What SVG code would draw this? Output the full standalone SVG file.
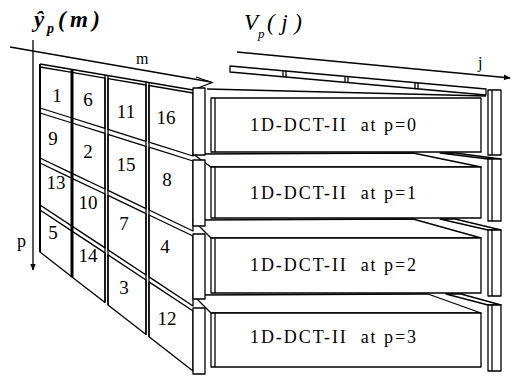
<svg xmlns="http://www.w3.org/2000/svg" width="511" height="376" viewBox="0 0 511 376">
<defs>
<style>
.s{fill:#fff;stroke:#000;stroke-width:1.3;stroke-linejoin:round}
.l{fill:none;stroke:#000;stroke-width:1.3}
.n{font-family:"Liberation Serif",serif;font-size:19px;text-anchor:middle;fill:#000}
.b{font-family:"Liberation Serif",serif;font-size:18px;fill:#000}
.ax{font-family:"Liberation Serif",serif;fill:#000}
</style>
<marker id="ah" viewBox="0 0 10 10" refX="9" refY="5" markerWidth="7" markerHeight="7" orient="auto" markerUnits="userSpaceOnUse"><path d="M0,1 L10,5 L0,9 Z" fill="#000"/></marker>
</defs>
<rect width="511" height="376" fill="#fff"/>

<!-- titles -->
<g id="title-y">
<text class="ax" x="34" y="27" font-size="23" font-weight="bold" font-style="italic">ŷ</text>
<text class="ax" x="47" y="33" font-size="14" font-weight="bold" font-style="italic">p</text>
<text class="ax" x="58" y="27" font-size="23" font-weight="bold" font-style="italic" textLength="42" lengthAdjust="spacing">(m)</text>
</g>
<g id="title-v">
<text class="ax" x="244" y="30" font-size="23" font-style="italic">V</text>
<text class="ax" x="258" y="38" font-size="13" font-style="italic">p</text>
<text class="ax" x="267" y="30" font-size="23" font-style="italic" textLength="35" lengthAdjust="spacing">(j)</text>
</g>

<!-- connectors / axes -->
<g id="connectors">
<line class="l" x1="10" y1="47" x2="211" y2="82"/>
<polyline class="l" points="196,77 212,82.5 198,88"/>
<line class="l" x1="33" y1="40" x2="33" y2="270" marker-end="url(#ah)"/>
<line class="l" x1="237" y1="52" x2="510" y2="78" marker-end="url(#ah)"/>
<text class="ax" x="136" y="64" font-size="16">m</text>
<text class="ax" x="478" y="68" font-size="16">j</text>
<text class="ax" x="17" y="247" font-size="18">p</text>
</g>

<!-- grid -->
<g id="grid-top"><line class="l" x1="40" y1="64" x2="193" y2="90"/></g>
<g id="cell-1"><polygon class="s" points="40,67 72,72.4 72,118 40,108"/><text class="n" x="57" y="102">1</text></g>
<g id="cell-6"><polygon class="s" points="72,72.4 105,78.1 105,128.4 72,118"/><text class="n" x="88" y="106">6</text></g>
<g id="cell-11"><polygon class="s" points="108,78.6 146,85 146,141.3 108,129.4"/><text class="n" x="126" y="118">11</text></g>
<g id="cell-16"><polygon class="s" points="149,85.5 193,93 193,156 149,142.2"/><text class="n" x="166" y="124">16</text></g>

<g id="cell-9"><polygon class="s" points="40,113 72,123 72,173.3 40,158"/><text class="n" x="53" y="145">9</text></g>
<g id="cell-2"><polygon class="s" points="72,123 105,133.4 105,189 72,173.3"/><text class="n" x="88" y="158">2</text></g>
<g id="cell-15"><polygon class="s" points="108,134.4 146,146.3 146,208.6 108,190.4"/><text class="n" x="126" y="171">15</text></g>
<g id="cell-8"><polygon class="s" points="149,147.2 193,161 193,231 149,210"/><text class="n" x="167" y="186">8</text></g>

<g id="cell-13"><polygon class="s" points="40,163 72,178.3 72,226.1 40,205"/><text class="n" x="56" y="189">13</text></g>
<g id="cell-10"><polygon class="s" points="72,178.3 105,194 105,247.9 72,226.1"/><text class="n" x="88" y="209">10</text></g>
<g id="cell-7"><polygon class="s" points="108,195.4 146,213.6 146,275 108,249.9"/><text class="n" x="124" y="230">7</text></g>
<g id="cell-4"><polygon class="s" points="149,215 193,236 193,306 149,276.9"/><text class="n" x="165" y="253">4</text></g>

<g id="cell-5"><polygon class="s" points="40,210 72,231.1 72,276.9 40,252"/><text class="n" x="53" y="239">5</text></g>
<g id="cell-14"><polygon class="s" points="72,231.1 105,252.9 105,302.6 72,276.9"/><text class="n" x="88" y="262">14</text></g>
<g id="cell-3"><polygon class="s" points="108,254.9 146,280 146,334.5 108,304.9"/><text class="n" x="124" y="294">3</text></g>
<g id="cell-12"><polygon class="s" points="149,281.9 193,311 193,371 149,336.8"/><text class="n" x="167" y="325">12</text></g>

<g id="grid-dividers">
<line x1="72" y1="70" x2="72" y2="277" stroke="#000" stroke-width="3"/>
<line x1="40" y1="64" x2="40" y2="252" stroke="#000" stroke-width="2"/>
<line class="l" x1="105" y1="75" x2="105" y2="302.6"/>
<line class="l" x1="108" y1="75.6" x2="108" y2="304.9"/>
<line class="l" x1="146" y1="82" x2="146" y2="334.5"/>
<line class="l" x1="149" y1="82.5" x2="149" y2="336.8"/>
</g>

<!-- top slab over the DCT boxes -->
<g id="slab">
<polygon class="s" points="230,66 486,89 486,95 230,72"/>
<line class="l" x1="283" y1="70.8" x2="283" y2="76.8"/><line class="l" x1="286" y1="71.1" x2="286" y2="77.1"/>
<line class="l" x1="345" y1="76.3" x2="345" y2="82.3"/><line class="l" x1="348" y1="76.6" x2="348" y2="82.6"/>
<line class="l" x1="415" y1="82.6" x2="415" y2="88.6"/><line class="l" x1="418" y1="82.9" x2="418" y2="88.9"/>
<line class="l" x1="207" y1="89" x2="486" y2="96"/>
</g>

<!-- top faces between boxes -->
<g id="shelves">
<polygon class="s" points="193,154 413,153 481,167 211,167"/>
<polygon class="s" points="193,220 413,219 481,238 211,238"/>
<polygon class="s" points="193,295 428,294 481,313 211,313"/>
<polygon class="s" points="440,153 455,153 501,159 488,159"/>
<polygon class="s" points="440,219 455,219 501,230 488,230"/>
<polygon class="s" points="446,294 461,294 501,305 488,305"/>
</g>

<!-- DCT blocks -->
<g id="dct-0">
<rect class="s" x="193" y="88" width="12" height="67"/>
<rect class="s" x="488" y="90" width="13" height="65"/><line class="l" x1="492" y1="90" x2="492" y2="155"/>
<rect class="s" x="211" y="98" width="270" height="54"/><line class="l" x1="215" y1="98" x2="215" y2="152"/>
<text class="b" x="250" y="131" textLength="166" lengthAdjust="spacing" xml:space="preserve">1D-DCT-II  at p=0</text>
</g>
<g id="dct-1">
<rect class="s" x="193" y="160" width="12" height="66"/>
<rect class="s" x="488" y="159" width="13" height="62"/><line class="l" x1="492" y1="159" x2="492" y2="221"/>
<rect class="s" x="211" y="167" width="270" height="51"/><line class="l" x1="215" y1="167" x2="215" y2="218"/>
<text class="b" x="250" y="199" textLength="166" lengthAdjust="spacing" xml:space="preserve">1D-DCT-II  at p=1</text>
</g>
<g id="dct-2">
<rect class="s" x="193" y="234" width="12" height="65"/>
<rect class="s" x="488" y="230" width="13" height="66"/><line class="l" x1="492" y1="230" x2="492" y2="296"/>
<rect class="s" x="211" y="238" width="270" height="55"/><line class="l" x1="215" y1="238" x2="215" y2="293"/>
<text class="b" x="250" y="271" textLength="166" lengthAdjust="spacing" xml:space="preserve">1D-DCT-II  at p=2</text>
</g>
<g id="dct-3">
<rect class="s" x="193" y="308" width="12" height="66"/>
<rect class="s" x="488" y="305" width="13" height="66"/><line class="l" x1="492" y1="305" x2="492" y2="371"/>
<rect class="s" x="211" y="313" width="270" height="54"/><line class="l" x1="215" y1="313" x2="215" y2="367"/>
<text class="b" x="250" y="343" textLength="166" lengthAdjust="spacing" xml:space="preserve">1D-DCT-II  at p=3</text>
</g>
</svg>
